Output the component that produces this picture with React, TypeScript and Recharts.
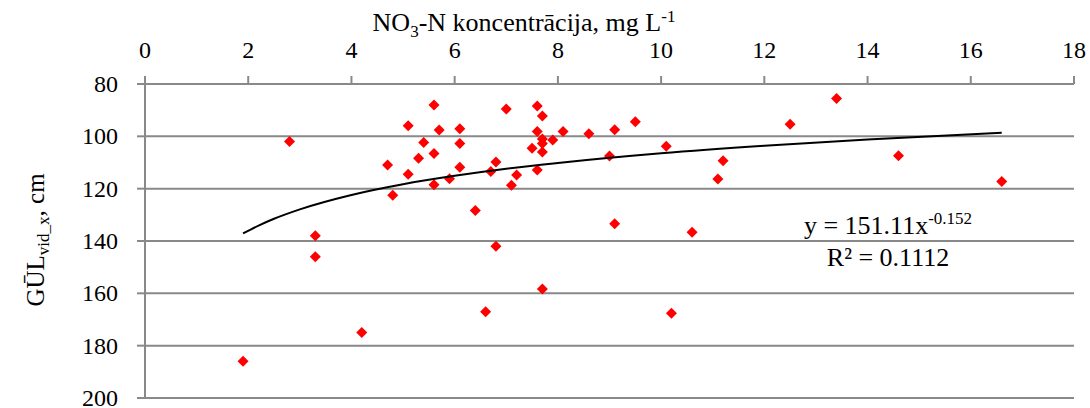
import React from 'react';
import { ScatterChart, Scatter, XAxis, YAxis, CartesianGrid } from 'recharts';

// NO3-N concentration (mg/L) vs GŪL depth (cm)
const nitrate = [
  1.9, 2.8, 3.3, 3.3, 4.2, 4.7, 4.8, 5.1, 5.1, 5.3, 5.4, 5.6, 5.6, 5.6, 5.7, 5.9, 6.1, 6.1,
  6.1, 6.4, 6.6, 6.7, 6.8, 6.8, 7.0, 7.1, 7.2, 7.5, 7.6, 7.6, 7.6, 7.7, 7.7, 7.7, 7.7, 7.7,
  7.9, 8.1, 8.6, 9.0, 9.1, 9.1, 9.5, 10.1, 10.2, 10.6, 11.1, 11.2, 12.5, 13.4, 14.6, 16.6,
];
const depth = [
  186, 102, 138, 146, 175, 111, 122.5, 96, 114.5, 108.4, 102.4, 88, 106.6, 118.5, 97.6, 116.2, 97.1, 102.7,
  111.8, 128.3, 167, 113.4, 109.8, 142, 89.6, 118.7, 114.8, 104.6, 88.4, 98.2, 112.9, 92.2, 101, 102.7, 106, 158.3,
  101.4, 98.2, 99, 107.5, 97.5, 133.4, 94.4, 103.8, 167.6, 136.7, 116.3, 109.3, 95.4, 85.5, 107.4, 117.3,
];

// power trendline
const trendX = [1.9, 2.2, 2.5, 3, 4, 5, 6, 7, 8, 10, 12, 14, 16.6];
const trendY = [137.1, 134.1, 131.5, 127.9, 122.4, 118.3, 115.1, 112.4, 110.2, 106.5, 103.6, 101.2, 98.6];

const xTicks = [0, 2, 4, 6, 8, 10, 12, 14, 16, 18];
const yTicks = [80, 100, 120, 140, 160, 180, 200];

const points = nitrate.map((x, i) => ({ x, y: depth[i] }));
const trend = trendX.map((x, i) => ({ x, y: trendY[i] }));

const FONT = '"Liberation Serif", "Times New Roman", serif';
const GREY = '#898989';

const Diamond = (props: any) => {
  const { cx, cy } = props;
  const r = 5.5;
  return <path d={`M${cx},${cy - r}L${cx + r},${cy}L${cx},${cy + r}L${cx - r},${cy}Z`} fill="#ff0000" />;
};

const tickStyle = { fontFamily: FONT, fontSize: '24px' };

const TopTick = (props: any) => (
  <g>
    <text x={props.x} y={props.y} textAnchor="middle" style={tickStyle} fill="#000">
      {String(props.payload.value)}
    </text>
  </g>
);

const LeftTick = (props: any) => (
  <g>
    <text x={props.x} y={props.y + 8} textAnchor="end" style={tickStyle} fill="#000">
      {String(props.payload.value)}
    </text>
  </g>
);

const App: React.FC = () => {
  return (
    <div style={{ position: 'relative', width: 1090, height: 408, background: '#fff', fontFamily: FONT }}>
      <style>{`body{margin:0}`}</style>
      <ScatterChart
        width={1090}
        height={408}
        margin={{ top: 44, right: 16, bottom: 10, left: 85 }}
        style={{ fontFamily: FONT }}
      >
        <CartesianGrid vertical={false} stroke={GREY} strokeWidth={2} />
        <XAxis
          type="number"
          dataKey="x"
          orientation="top"
          height={40}
          domain={[0, 18]}
          ticks={xTicks}
          interval={0}
          stroke={GREY}
          strokeWidth={2}
          tickSize={8}
          tickMargin={18}
          tick={<TopTick />}
        />
        <YAxis
          type="number"
          dataKey="y"
          reversed
          width={60}
          domain={[80, 200]}
          ticks={yTicks}
          interval={0}
          stroke={GREY}
          strokeWidth={2}
          tickSize={8}
          tickMargin={19}
          tick={<LeftTick />}
        />
        <Scatter data={points} shape={Diamond} isAnimationActive={false} />
        <Scatter
          data={trend}
          line={{ stroke: '#000', strokeWidth: 2 }}
          lineJointType="monotoneX"
          shape={() => <g />}
          isAnimationActive={false}
        />
      </ScatterChart>
      <svg
        width={1090}
        height={408}
        style={{ position: 'absolute', left: 0, top: 0, pointerEvents: 'none' }}
        fontFamily={FONT}
        fill="#000"
      >
        <text x={524} y={31} fontSize={26} textAnchor="middle">
          NO<tspan fontSize={17} dy={6}>3</tspan>
          <tspan dy={-6}>-N koncentrācija, mg L</tspan>
          <tspan fontSize={17} dy={-9}>-1</tspan>
        </text>
        <text x={44} y={240} fontSize={25} textAnchor="middle" transform="rotate(-90 44 240)">
          GŪL<tspan fontSize={17} dy={5}>vid_x</tspan>
          <tspan dy={-5}>, cm</tspan>
        </text>
        <text x={888} y={234} fontSize={26} textAnchor="middle">
          y = 151.11x<tspan fontSize={17} dy={-10}>-0.152</tspan>
        </text>
        <text x={888} y={266} fontSize={26} textAnchor="middle">
          R² = 0.1112
        </text>
      </svg>
    </div>
  );
};

export default App;
